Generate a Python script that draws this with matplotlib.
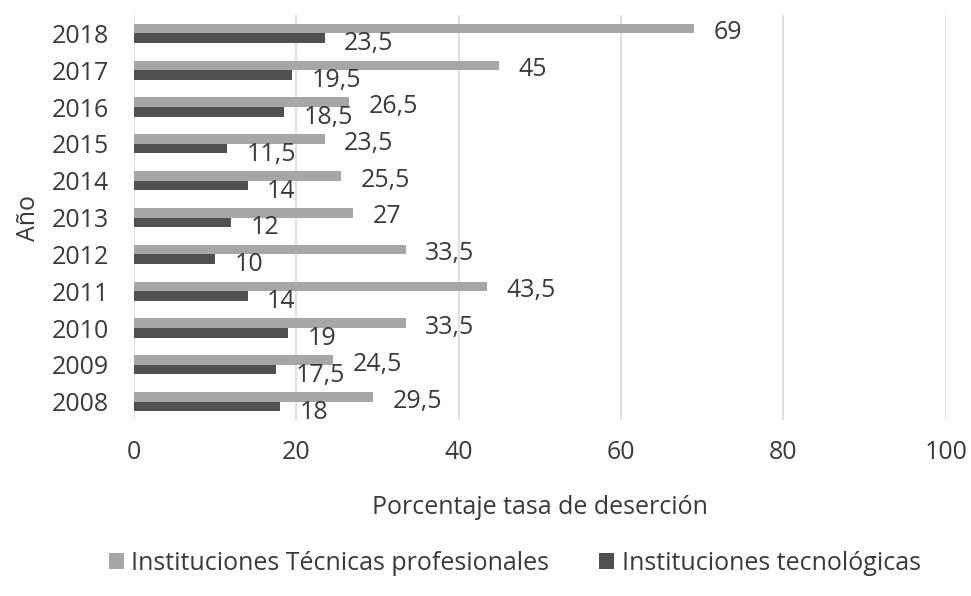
import matplotlib.pyplot as plt
import numpy as np

plt.rcParams['font.family'] = ['Open Sans', 'DejaVu Sans']

years = ["2008", "2009", "2010", "2011", "2012", "2013", "2014", "2015", "2016", "2017", "2018"]
tecnicas = [29.5, 24.5, 33.5, 43.5, 33.5, 27, 25.5, 23.5, 26.5, 45, 69]
tecnologicas = [18, 17.5, 19, 14, 10, 12, 14, 11.5, 18.5, 19.5, 23.5]

light = "#a6a6a6"
dark = "#505050"
text_c = "#3a3a3a"

fig = plt.figure(figsize=(9.71, 5.96), dpi=100)
ax = fig.add_axes([0.138, 0.295, 0.836, 0.68])

y = np.arange(len(years))
h = 0.26
ax.barh(y + h / 2, tecnicas, height=h, color=light, label="Instituciones Técnicas profesionales", zorder=3)
ax.barh(y - h / 2, tecnologicas, height=h, color=dark, label="Instituciones tecnológicas", zorder=3)

def fmt(v):
    return (f"{v:g}").replace(".", ",")

for yi, v in zip(y, tecnicas):
    ax.annotate(fmt(v), (v, yi + h / 2), xytext=(14, -3), textcoords="offset points",
                ha="left", va="center", fontsize=18, color=text_c)
for yi, v in zip(y, tecnologicas):
    ax.annotate(fmt(v), (v, yi - h / 2), xytext=(14, -4), textcoords="offset points",
                ha="left", va="center", fontsize=18, color=text_c)

ax.set_xlim(0, 100)
ax.set_ylim(-0.5, 10.5)
ax.set_xticks(range(0, 101, 20))
ax.set_yticks(y)
ax.set_yticklabels(years)
ax.tick_params(length=0, labelsize=18, labelcolor=text_c)
ax.tick_params(axis="y", pad=18)
ax.tick_params(axis="x", pad=14)
ax.grid(axis="x", color="#d9d9d9", linewidth=1.2, zorder=0)
for s in ax.spines.values():
    s.set_visible(False)

ax.set_xlabel("Porcentaje tasa de deserción", fontsize=18, color=text_c, labelpad=22)
ax.set_ylabel("Año", fontsize=18, color=text_c, labelpad=8)

fig.legend(loc="center", bbox_to_anchor=(0.53, 0.055), ncol=2, frameon=False,
           fontsize=18, labelcolor=text_c, handlelength=0.6, handleheight=0.6,
           handletextpad=0.3, columnspacing=2.0)

fig.savefig("out.png", dpi=100)
